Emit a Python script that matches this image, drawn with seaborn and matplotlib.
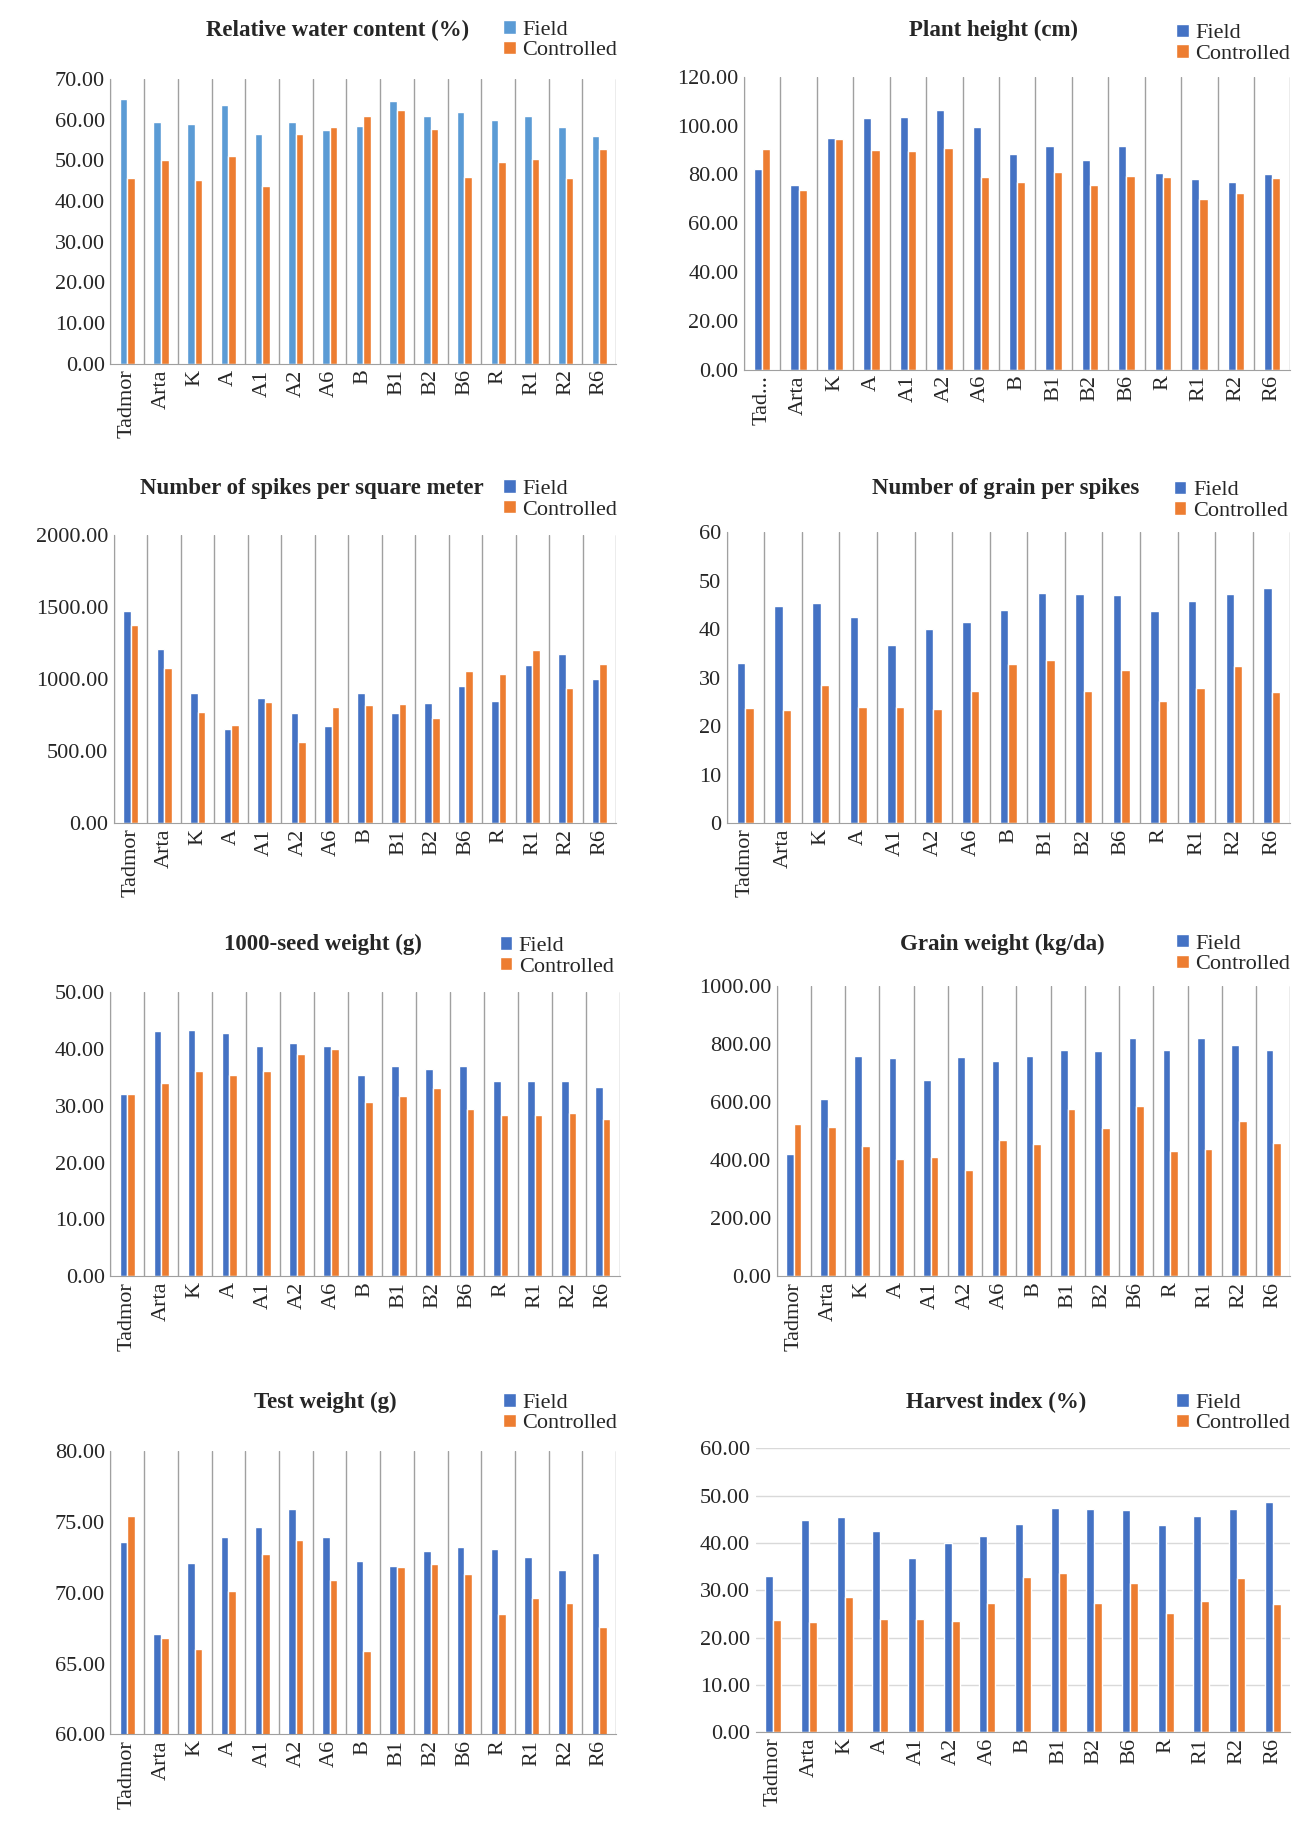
import pandas as pd
import matplotlib.pyplot as plt
import seaborn as sns

genotypes = ["Tadmor", "Arta", "K", "A", "A1", "A2", "A6", "B", "B1", "B2", "B6", "R", "R1", "R2", "R6"]

rwc_field = [65, 59.5, 59, 63.5, 56.5, 59.5, 57.5, 58.5, 64.5, 61, 62, 60, 60.8, 58.3, 56]
rwc_ctrl = [45.8, 50, 45.2, 51.2, 43.7, 56.5, 58.3, 61, 62.3, 57.8, 46, 49.5, 50.3, 45.7, 52.8]

height_field = [82, 75.5, 95, 103, 103.5, 106.5, 99.5, 88.5, 91.5, 86, 91.5, 80.5, 78, 77, 80]
height_ctrl = [90.5, 73.5, 94.5, 90, 89.5, 91, 79, 77, 81, 75.5, 79.5, 79, 70, 72.5, 78.5]

spikes_field = [1470, 1210, 900, 650, 865, 760, 670, 900, 760, 830, 950, 850, 1095, 1175, 1000]
spikes_ctrl = [1375, 1075, 770, 680, 840, 560, 805, 820, 825, 730, 1055, 1035, 1200, 940, 1100]

grain_field = [33, 44.8, 45.5, 42.5, 36.8, 40, 41.5, 44, 47.5, 47.3, 47, 43.8, 45.8, 47.2, 48.6]
grain_ctrl = [23.8, 23.3, 28.5, 24, 24, 23.6, 27.3, 32.8, 33.7, 27.3, 31.6, 25.3, 27.8, 32.5, 27]

tsw_field = [32, 43, 43.3, 42.7, 40.4, 41, 40.4, 35.3, 37, 36.4, 37, 34.3, 34.3, 34.3, 33.3]
tsw_ctrl = [32, 34, 36, 35.4, 36, 39, 40, 30.7, 31.7, 33, 29.4, 28.4, 28.4, 28.7, 27.7]

gw_field = [420, 610, 760, 750, 675, 755, 740, 760, 780, 775, 820, 780, 820, 795, 780]
gw_ctrl = [525, 515, 450, 405, 410, 365, 470, 455, 575, 510, 585, 430, 440, 535, 460]

test_field = [73.6, 67.1, 72.1, 73.9, 74.6, 75.9, 73.9, 72.2, 71.9, 72.9, 73.2, 73.1, 72.5, 71.6, 72.8]
test_ctrl = [75.4, 66.8, 66, 70.1, 72.7, 73.7, 70.9, 65.9, 71.8, 72, 71.3, 68.5, 69.6, 69.3, 67.6]

hi_field = grain_field
hi_ctrl = grain_ctrl

sns.set_style("white")
plt.rcParams['font.family'] = ['Liberation Serif', 'DejaVu Serif']

fig = plt.figure(figsize=(13.02, 18.28), dpi=100)
# layout measured on a 1120-wide view of the reference
S = 1302 / 1120
W, H = 1120, 1828 / S

panels = [
    ("Relative water content (%)", rwc_field, rwc_ctrl, (0, 70, 10), "{:.2f}", "#5B9BD5", "v",
     (95, 68, 530, 313), (290, 26), (433, 52)),
    ("Plant height (cm)", height_field, height_ctrl, (0, 120, 20), "{:.2f}", "#4472C4", "v",
     (640, 66, 1110, 318), (855, 26), (1012, 55)),
    ("Number of spikes per square meter", spikes_field, spikes_ctrl, (0, 2000, 500), "{:.2f}", "#4472C4", "v",
     (98, 460, 530, 708), (268, 420), (433, 447)),
    ("Number of grain per spikes", grain_field, grain_ctrl, (0, 60, 10), "{:.0f}", "#4472C4", "v",
     (625, 458, 1110, 708), (865, 420), (1010, 448)),
    ("1000-seed weight (g)", tsw_field, tsw_ctrl, (0, 50, 10), "{:.2f}", "#4472C4", "v",
     (95, 853, 533, 1098), (278, 812), (430, 840)),
    ("Grain weight (kg/da)", gw_field, gw_ctrl, (0, 1000, 200), "{:.2f}", "#4472C4", "v",
     (668, 848, 1110, 1098), (862, 812), (1012, 838)),
    ("Test weight (g)", test_field, test_ctrl, (60, 80, 5), "{:.2f}", "#4472C4", "v",
     (95, 1248, 530, 1492), (280, 1206), (433, 1233)),
    ("Harvest index (%)", hi_field, hi_ctrl, (0, 60, 10), "{:.2f}", "#4472C4", "h",
     (650, 1246, 1110, 1490), (857, 1206), (1012, 1233)),
]

for i, (title, fvals, cvals, (lo, hi, step), fmt, fcol, grid, (x0, y0, x1, y1), (tx, ty), (lx, ly)) in enumerate(panels):
    ax = fig.add_axes([x0 / W, 1 - y1 / H, (x1 - x0) / W, (y1 - y0) / H])
    df = pd.DataFrame({
        "Genotype": genotypes * 2,
        "value": fvals + cvals,
        "Treatment": ["Field"] * 15 + ["Controlled"] * 15,
    })
    sns.barplot(data=df, x="Genotype", y="value", hue="Treatment",
                palette=[fcol, "#ED7D31"], width=0.45, ax=ax, saturation=1)
    ax.set_ylim(lo, hi)
    ax.set_xlim(-0.5, 14.5)
    ticks = list(range(lo, hi + 1, step))
    ax.set_yticks(ticks)
    ax.set_yticklabels([fmt.format(t) for t in ticks], fontsize=16)
    labels = list(genotypes)
    if i == 1:
        labels[0] = "Tad..."
    ax.set_xticks(range(15))
    ax.set_xticklabels(labels, rotation=90, fontsize=16)
    ax.set_xlabel("")
    ax.set_ylabel("")
    ax.tick_params(length=0, pad=4)
    for s in ["top", "right"]:
        ax.spines[s].set_visible(False)
    for s in ["left", "bottom"]:
        ax.spines[s].set_color("#A0A0A0")
    if grid == "v":
        for k in range(16):
            ax.axvline(k - 0.5, color="#A0A0A0", lw=1, zorder=0)
    else:
        ax.spines["left"].set_visible(False)
        for t in ticks:
            ax.axhline(t, color="#D9D9D9", lw=1, zorder=0)
    fig.text(tx / W, 1 - ty / H, title, fontsize=16.5, fontweight="bold", ha="center", va="center")
    ax.legend(loc="lower left", bbox_to_anchor=(lx / W, 1 - ly / H), bbox_transform=fig.transFigure,
              frameon=False, fontsize=16, handlelength=0.55, handleheight=0.55,
              handletextpad=0.3, labelspacing=0.05, borderaxespad=0, borderpad=0)

fig.savefig("out.png", dpi=100)
